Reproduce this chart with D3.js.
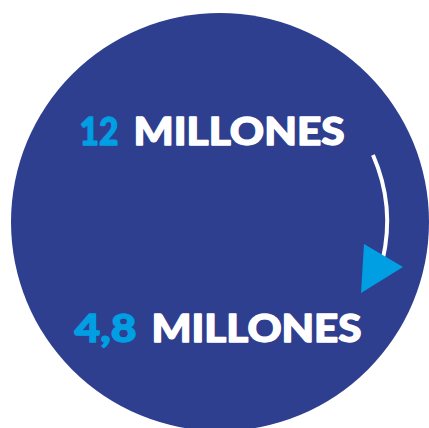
<!DOCTYPE html>
<html>
<head>
<meta charset="utf-8">
<script src="https://cdn.jsdelivr.net/npm/d3@7"></script>
<style>
  html, body { margin: 0; padding: 0; background: #fff; }
  svg { display: block; }
  .label { font-family: Lato, "Open Sans", sans-serif; font-weight: 900; font-size: 37px; stroke-width: 1.3px; stroke-linejoin: round; }
</style>
</head>
<body>
<div id="chart-container"></div>
<script>
'use strict'

// values shown in the graphic (before / after)
var values = [12, 4.8]
var units = ['MILLONES', 'MILLONES']
var steps = ['antes', 'despues']

var width = 429
var height = 428

var esLocale = d3.formatLocale({ decimal: ',', thousands: '.', grouping: [3], currency: ['', ' €'] })
var fmt = function(v) { return Number.isInteger(v) ? esLocale.format('d')(v) : esLocale.format('.1f')(v) }

var svg = d3.select('#chart-container')
    .append('svg')
        .attr('width', width)
        .attr('height', height)

var cx = 220, cy = 222, r = 209

svg.append('circle')
    .attr('cx', cx)
    .attr('cy', cy)
    .attr('r', r)
    .style('fill', '#2f3f8f')

// vertical position of each label (baseline)
var y = d3.scalePoint()
    .domain(steps)
    .range([144.5, 341.5])

// horizontal layout of number and unit for each label
var layout = {
    antes:   { numX: 79.5, numW: 39, unitX: 133.5, unitW: 211 },
    despues: { numX: 74.5, numW: 62, unitX: 151.5, unitW: 210 }
}

steps.forEach(function(s, i) {
    var l = layout[s]
    svg.append('text')
        .attr('class', 'label')
        .attr('x', l.numX)
        .attr('y', y(s))
        .attr('textLength', l.numW)
        .attr('lengthAdjust', 'spacingAndGlyphs')
        .style('fill', '#009fe3')
        .style('stroke', '#009fe3')
        .text(fmt(values[i]))
    svg.append('text')
        .attr('class', 'label')
        .attr('x', l.unitX)
        .attr('y', y(s))
        .attr('textLength', l.unitW)
        .attr('lengthAdjust', 'spacingAndGlyphs')
        .style('fill', '#ffffff')
        .style('stroke', '#ffffff')
        .text(units[i])
})

// curved arrow, concentric with the circle
var arcR = 167
var arc = d3.arc()
    .innerRadius(arcR - 2)
    .outerRadius(arcR + 2)
    .startAngle(Math.PI / 2 - Math.atan2(67, 153))
    .endAngle(Math.PI / 2 + Math.atan2(38, 162))

svg.append('path')
    .attr('transform', 'translate(' + cx + ',' + cy + ')')
    .attr('d', arc())
    .style('fill', '#ffffff')

var tri = [[364, 244], [403, 267], [361, 293]]
svg.append('path')
    .attr('d', d3.line()(tri) + 'Z')
    .style('fill', '#009fe3')
</script>
</body>
</html>
